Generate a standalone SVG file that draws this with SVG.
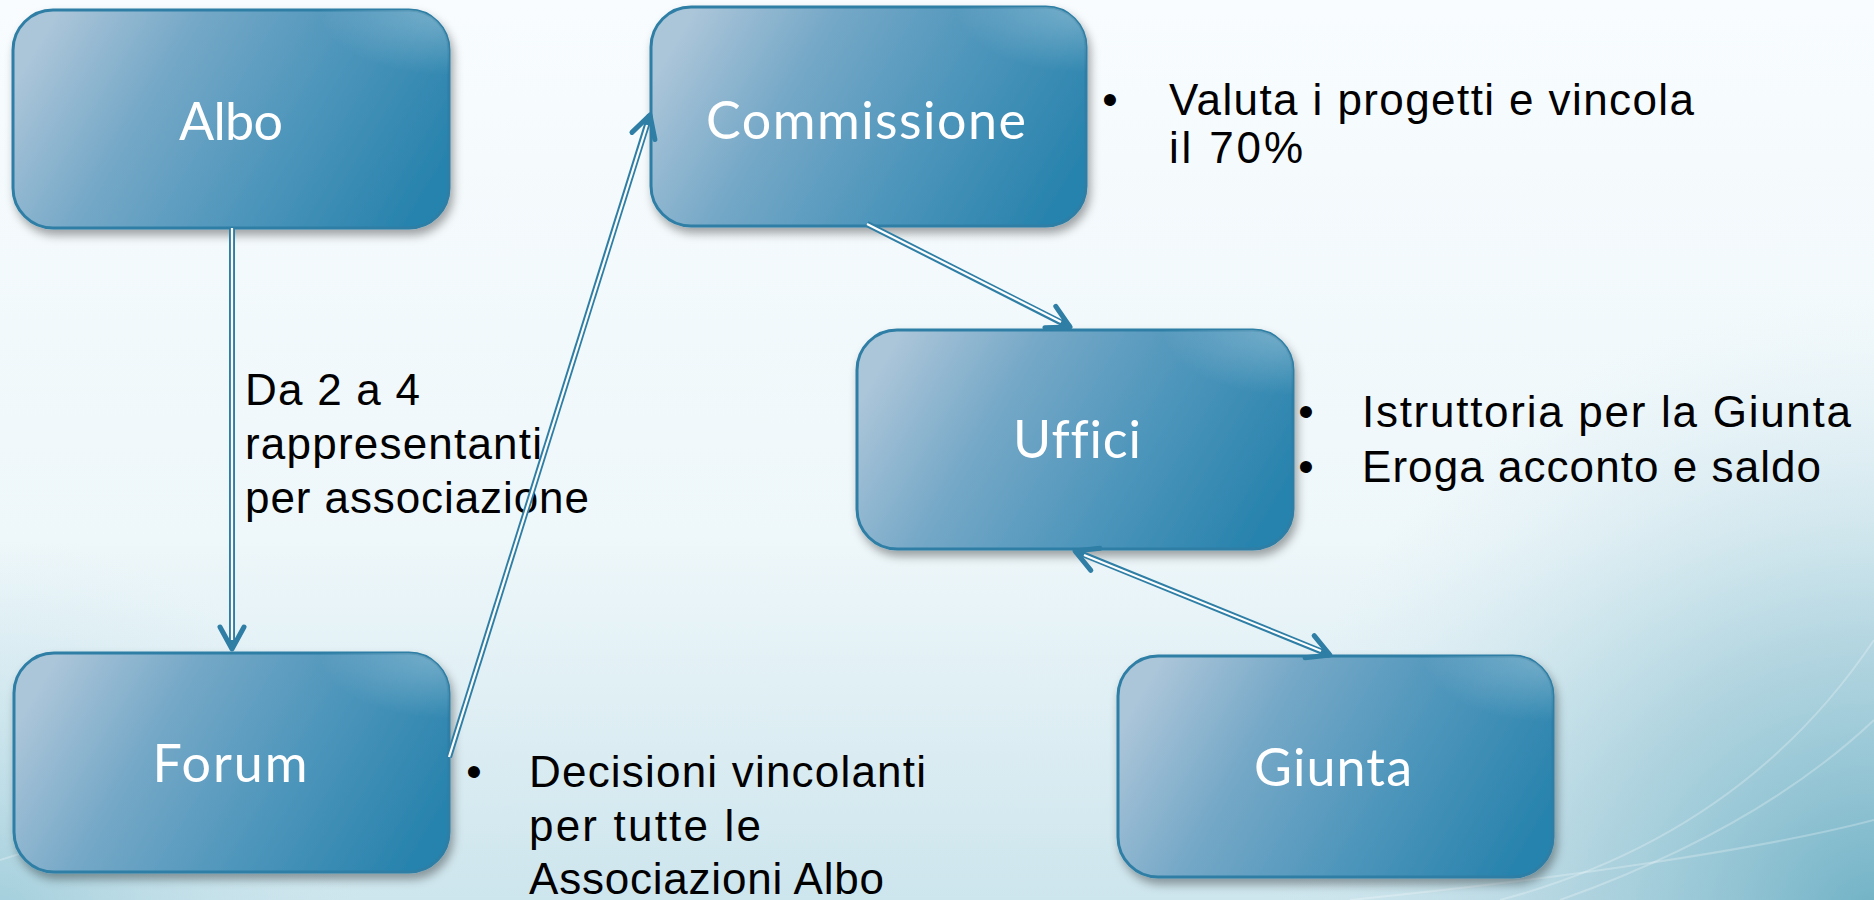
<svg xmlns="http://www.w3.org/2000/svg" width="1874" height="900" viewBox="0 0 1874 900">
<defs>
<linearGradient id="bg" x1="0" y1="0" x2="0" y2="1">
<stop offset="0" stop-color="#f8fcfe"/>
<stop offset="0.6" stop-color="#eef7fa"/>
<stop offset="1" stop-color="#cde5ed"/>
</linearGradient>
<radialGradient id="bgBR" cx="1874" cy="920" r="620" gradientUnits="userSpaceOnUse">
<stop offset="0" stop-color="#6fb1c5" stop-opacity="1"/>
<stop offset="0.45" stop-color="#9fcad8" stop-opacity="0.7"/>
<stop offset="1" stop-color="#cfe6ee" stop-opacity="0"/>
</radialGradient>
<radialGradient id="bgBL" cx="0" cy="920" r="380" gradientUnits="userSpaceOnUse">
<stop offset="0" stop-color="#9ccbd9" stop-opacity="0.9"/>
<stop offset="1" stop-color="#cfe6ee" stop-opacity="0"/>
</radialGradient>
<linearGradient id="box" x1="0" y1="0.35" x2="1" y2="0.65">
<stop offset="0" stop-color="#abc5d9"/>
<stop offset="0.3" stop-color="#75a8c7"/>
<stop offset="0.65" stop-color="#4d95bb"/>
<stop offset="1" stop-color="#2883ad"/>
</linearGradient>
<radialGradient id="hl" cx="1" cy="0" r="0.3">
<stop offset="0" stop-color="#ffffff" stop-opacity="0.3"/>
<stop offset="1" stop-color="#ffffff" stop-opacity="0"/>
</radialGradient>
<filter id="sh" x="-10%" y="-10%" width="125%" height="130%">
<feDropShadow dx="3" dy="6" stdDeviation="5" flood-color="#000" flood-opacity="0.35"/>
</filter>
<marker id="arr" markerUnits="userSpaceOnUse" markerWidth="44" markerHeight="44" viewBox="-32 -22 44 44" refX="0" refY="0" orient="auto-start-reverse">
<path d="M -22 -12 L 0 0 L -22 12" fill="none" stroke="#2e7ea5" stroke-width="5" stroke-linecap="round" stroke-linejoin="round"/>
</marker>
</defs>
<style>
.node rect.b{fill:url(#box);stroke:#2e7ea5;stroke-width:3;filter:url(#sh)}
.node rect.h{fill:url(#hl);stroke:none}
.node text{font-family:Lato,"Liberation Sans",Arial,sans-serif;font-weight:400;font-size:52px;fill:#ffffff;text-anchor:middle;font-variant-ligatures:none}
.lbl{font-family:"Liberation Sans",Arial,sans-serif;font-size:44px;fill:#000000}
.bul{font-family:"Liberation Sans",Arial,sans-serif;font-size:44px;fill:#000000;text-anchor:middle}
.out{fill:none;stroke:#2e7ea5;stroke-width:6}
.inn{fill:none;stroke:#ffffff;stroke-width:2.2}
</style>
<rect x="0" y="0" width="1874" height="900" fill="url(#bg)"/>
<rect x="0" y="0" width="1874" height="900" fill="url(#bgBR)"/>
<rect x="0" y="0" width="1874" height="900" fill="url(#bgBL)"/>
<g fill="none" stroke="#ffffff" stroke-opacity="0.25" stroke-width="2">
<path d="M 1500 900 C 1650 860 1780 780 1874 640"/>
<path d="M 1560 900 C 1700 850 1800 790 1874 720"/>
<path d="M 1350 900 C 1550 880 1760 850 1874 820"/>
<path d="M 0 860 C 60 840 120 830 200 826"/>
</g>

<g id="node-albo" class="node">
<rect class="b" x="13" y="10" width="436" height="218" rx="40" ry="40"/>
<rect class="h" x="13" y="10" width="436" height="218" rx="40" ry="40"/>
<text x="231" y="140" textLength="104">Albo</text>
</g>
<g id="node-commissione" class="node">
<rect class="b" x="651" y="7" width="435" height="219" rx="40" ry="40"/>
<rect class="h" x="651" y="7" width="435" height="219" rx="40" ry="40"/>
<text x="866" y="139" textLength="320">Commissione</text>
</g>
<g id="node-uffici" class="node">
<rect class="b" x="857" y="330" width="436" height="219" rx="40" ry="40"/>
<rect class="h" x="857" y="330" width="436" height="219" rx="40" ry="40"/>
<text x="1077" y="458" textLength="128">Uffici</text>
</g>
<g id="node-forum" class="node">
<rect class="b" x="14" y="653" width="435" height="219" rx="40" ry="40"/>
<rect class="h" x="14" y="653" width="435" height="219" rx="40" ry="40"/>
<text x="230" y="782" textLength="155">Forum</text>
</g>
<g id="node-giunta" class="node">
<rect class="b" x="1118" y="656" width="435" height="221" rx="40" ry="40"/>
<rect class="h" x="1118" y="656" width="435" height="221" rx="40" ry="40"/>
<text x="1333" y="786" textLength="158">Giunta</text>
</g>

<g id="labels">
<text class="bul" x="1110" y="115">•</text>
<text class="lbl" x="1169" y="115" textLength="525">Valuta i progetti e vincola</text>
<text class="lbl" x="1169" y="163" textLength="134">il 70%</text>
<text class="bul" x="1306" y="427">•</text>
<text class="lbl" x="1362" y="427" textLength="489">Istruttoria per la Giunta</text>
<text class="bul" x="1306" y="482">•</text>
<text class="lbl" x="1362" y="482" textLength="459">Eroga acconto e saldo</text>
<text class="lbl" x="245" y="405" textLength="175">Da 2 a 4</text>
<text class="lbl" x="245" y="459" textLength="297">rappresentanti</text>
<text class="lbl" x="245" y="513" textLength="344">per associazione</text>
<text class="bul" x="474" y="787">•</text>
<text class="lbl" x="529" y="787" textLength="397">Decisioni vincolanti</text>
<text class="lbl" x="529" y="841" textLength="232">per tutte le</text>
<text class="lbl" x="529" y="894" textLength="355">Associazioni Albo</text>
</g>

<g id="connectors">
<path class="out" d="M 232 228 L 232 649" marker-end="url(#arr)"/>
<path class="inn" d="M 232 228 L 232 640"/>
<path class="out" d="M 449 757 L 650 115" marker-end="url(#arr)"/>
<path class="inn" d="M 449 757 L 647 125"/>
<path class="out" d="M 867 224 L 1070 327" marker-end="url(#arr)"/>
<path class="inn" d="M 867 224 L 1061 322"/>
<path class="out" d="M 1075 551 L 1330 655" marker-start="url(#arr)" marker-end="url(#arr)"/>
<path class="inn" d="M 1084 555 L 1321 651"/>
</g>
</svg>
